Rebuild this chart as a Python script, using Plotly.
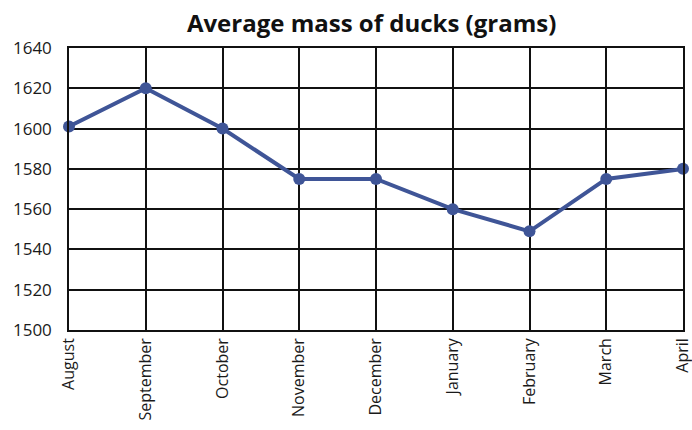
import plotly.graph_objects as go

months = ["August", "September", "October", "November", "December",
          "January", "February", "March", "April"]
mass = [1601, 1620, 1600, 1575, 1575, 1560, 1549, 1575, 1580]
y_ticks = [1500, 1520, 1540, 1560, 1580, 1600, 1620, 1640]

fig = go.Figure()
fig.add_trace(go.Scatter(
    x=months, y=mass, mode="lines+markers",
    line=dict(color="#3f5597", width=4),
    marker=dict(color="#3f5597", size=12),
    cliponaxis=False,
))

fig.update_layout(
    width=692, height=430,
    margin=dict(l=69, r=9, t=48, b=100, autoexpand=False),
    paper_bgcolor="white", plot_bgcolor="white",
    showlegend=False,
    font=dict(family="Open Sans", color="#1a1a1a"),
    title=dict(text="<b>Average mass of ducks (grams)</b>",
               x=0.537, xanchor="center", y=0.945, yanchor="middle",
               font=dict(size=24, color="#111")),
)
fig.update_xaxes(
    type="category", range=[0, 8], tickangle=-90, automargin=False,
    showgrid=True, gridcolor="#111", gridwidth=1.5,
    showline=True, linecolor="#111", linewidth=1.5, mirror=True,
    ticks="", tickfont=dict(size=16), zeroline=False,
)
fig.update_yaxes(
    range=[1500, 1640], tickvals=y_ticks, automargin=False,
    showgrid=True, gridcolor="#111", gridwidth=1.5,
    showline=True, linecolor="#111", linewidth=1.5, mirror=True,
    ticks="", tickfont=dict(size=17), zeroline=False,
    ticklabelstandoff=12,
)

fig.write_html("out.html", config={"displayModeBar": False},
               post_script="document.body.style.margin='0';document.body.style.overflow='hidden';")
